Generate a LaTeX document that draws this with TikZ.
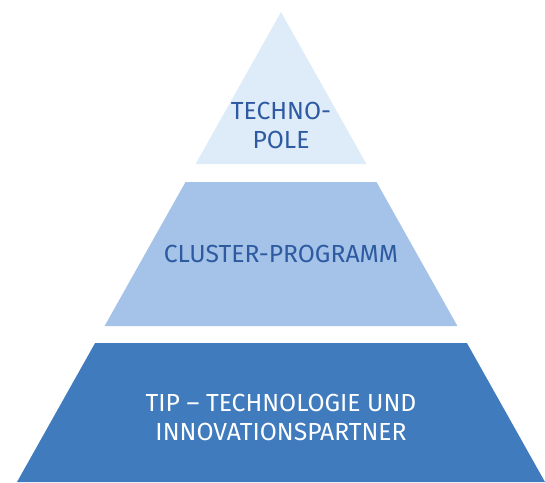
\documentclass[tikz,border=0pt]{standalone}
\usepackage{fontspec}
\setmainfont{Fira Sans}
\definecolor{poleblue}{HTML}{DEEBF8}
\definecolor{clusterblue}{HTML}{A5C3E8}
\definecolor{tipblue}{HTML}{407BBE}
\definecolor{labelblue}{HTML}{2D5AA0}
\tikzset{
  layertext/.style={align=center,inner sep=0pt,font=\fontsize{24.7}{29}\selectfont},
}
\begin{document}
\begin{tikzpicture}[x=1pt,y=-1pt]
\useasboundingbox (0,0) rectangle (545,482);
% pyramid layers
\fill[poleblue](281,12) -- (366.4,164) -- (195.6,164) -- cycle;
\fill[clusterblue](185.5,182) -- (376.5,182) -- (457.4,326) -- (104.6,326) -- cycle;
\fill[tipblue](95.1,343) -- (466.9,343) -- (545,482) -- (17,482) -- cycle;
% labels
\node[layertext,text=labelblue] (pole) at (281,125) {TECHNO-\\POLE};
\node[layertext,text=labelblue] (cluster) at (281,254) {CLUSTER-PROGRAMM};
\node[layertext,text=white] (tip) at (281,417.5) {TIP – TECHNOLOGIE UND\\INNOVATIONSPARTNER};
\end{tikzpicture}
\end{document}
